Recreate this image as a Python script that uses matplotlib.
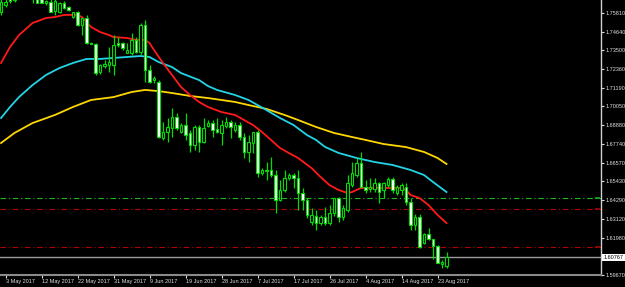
import matplotlib
matplotlib.use("Agg")
import matplotlib.pyplot as plt
import matplotlib.transforms as mtransforms
import numpy as np

plt.rcParams['font.family'] = ['Liberation Sans', 'DejaVu Sans']

# ---------------- data ----------------
opens = [1.7587, 1.7630, 1.7673, 1.7660, 1.7720, 1.7760, 1.7730, 1.7700, 1.7670, 1.7680,
         1.7640, 1.7649, 1.7595, 1.7587, 1.7643, 1.7618, 1.7556, 1.7587, 1.7507, 1.7550,
         1.7396, 1.7390, 1.7217, 1.7254, 1.7261, 1.7261, 1.7396, 1.7396, 1.7335, 1.7335,
         1.7415, 1.7341, 1.7507, 1.7230, 1.7168, 1.7156, 1.6811, 1.6848, 1.6873, 1.6940,
         1.6848, 1.6891, 1.6842, 1.6768, 1.6879, 1.6786, 1.6885, 1.6903, 1.6866, 1.6842,
         1.6885, 1.6909, 1.6860, 1.6891, 1.6817, 1.6725, 1.6780, 1.6848, 1.6595, 1.6614,
         1.6614, 1.6583, 1.6429, 1.6491, 1.6565, 1.6583, 1.6565, 1.6472, 1.6429, 1.6293,
         1.6330, 1.6287, 1.6324, 1.6287, 1.6349, 1.6441, 1.6324, 1.6367, 1.6521, 1.6583,
         1.6657, 1.6509, 1.6497, 1.6497, 1.6534, 1.6491, 1.6521, 1.6558, 1.6472, 1.6491,
         1.6509, 1.6417, 1.6275, 1.6324, 1.6164, 1.6220, 1.6189, 1.6146, 1.6035, 1.6022]
highs = [1.7692, 1.7679, 1.7710, 1.7740, 1.7790, 1.7800, 1.7760, 1.7715, 1.7690, 1.7700,
         1.7661, 1.7670, 1.7680, 1.7650, 1.7655, 1.7625, 1.7590, 1.7593, 1.7550, 1.7569,
         1.7400, 1.7396, 1.7265, 1.7291, 1.7371, 1.7445, 1.7433, 1.7402, 1.7396, 1.7458,
         1.7433, 1.7519, 1.7538, 1.7261, 1.7190, 1.7168, 1.6909, 1.6934, 1.6996, 1.6965,
         1.6903, 1.6965, 1.6860, 1.6891, 1.6891, 1.6934, 1.6922, 1.6922, 1.6934, 1.6922,
         1.6940, 1.6922, 1.6909, 1.6909, 1.6842, 1.6829, 1.6848, 1.6860, 1.6626, 1.6663,
         1.6694, 1.6614, 1.6552, 1.6614, 1.6595, 1.6595, 1.6614, 1.6503, 1.6441, 1.6380,
         1.6367, 1.6337, 1.6386, 1.6398, 1.6441, 1.6448, 1.6398, 1.6583, 1.6663, 1.6688,
         1.6725, 1.6552, 1.6565, 1.6565, 1.6540, 1.6540, 1.6571, 1.6571, 1.6521, 1.6534,
         1.6534, 1.6441, 1.6343, 1.6343, 1.6226, 1.6257, 1.6189, 1.6152, 1.6059, 1.6109]
lows = [1.7569, 1.7618, 1.7643, 1.7650, 1.7700, 1.7710, 1.7680, 1.7645, 1.7640, 1.7640,
        1.7630, 1.7587, 1.7569, 1.7580, 1.7605, 1.7593, 1.7550, 1.7501, 1.7445, 1.7390,
        1.7388, 1.7199, 1.7205, 1.7242, 1.7217, 1.7199, 1.7371, 1.7353, 1.7335, 1.7322,
        1.7335, 1.7322, 1.7156, 1.7150, 1.7150, 1.6811, 1.6799, 1.6786, 1.6817, 1.6860,
        1.6842, 1.6799, 1.6725, 1.6737, 1.6725, 1.6780, 1.6879, 1.6817, 1.6842, 1.6768,
        1.6873, 1.6811, 1.6848, 1.6799, 1.6688, 1.6663, 1.6718, 1.6571, 1.6583, 1.6552,
        1.6571, 1.6349, 1.6425, 1.6478, 1.6552, 1.6503, 1.6367, 1.6367, 1.6318, 1.6275,
        1.6244, 1.6275, 1.6275, 1.6275, 1.6330, 1.6293, 1.6306, 1.6355, 1.6509, 1.6571,
        1.6503, 1.6472, 1.6478, 1.6478, 1.6411, 1.6441, 1.6509, 1.6472, 1.6460, 1.6460,
        1.6398, 1.6244, 1.6244, 1.6133, 1.6158, 1.6183, 1.6066, 1.6041, 1.6010, 1.6010]
closes = [1.7649, 1.7649, 1.7655, 1.7720, 1.7760, 1.7730, 1.7700, 1.7670, 1.7645, 1.7645,
          1.7652, 1.7590, 1.7655, 1.7643, 1.7612, 1.7599, 1.7587, 1.7507, 1.7550, 1.7396,
          1.7390, 1.7211, 1.7261, 1.7267, 1.7279, 1.7384, 1.7384, 1.7365, 1.7353, 1.7415,
          1.7341, 1.7507, 1.7230, 1.7156, 1.7181, 1.6817, 1.6848, 1.6879, 1.6940, 1.6873,
          1.6891, 1.6829, 1.6768, 1.6879, 1.6786, 1.6873, 1.6903, 1.6860, 1.6845, 1.6891,
          1.6909, 1.6879, 1.6891, 1.6817, 1.6725, 1.6786, 1.6848, 1.6595, 1.6614, 1.6608,
          1.6583, 1.6429, 1.6491, 1.6565, 1.6583, 1.6565, 1.6472, 1.6429, 1.6337, 1.6337,
          1.6287, 1.6324, 1.6287, 1.6349, 1.6441, 1.6324, 1.6380, 1.6534, 1.6595, 1.6657,
          1.6509, 1.6491, 1.6509, 1.6534, 1.6478, 1.6534, 1.6558, 1.6491, 1.6509, 1.6521,
          1.6417, 1.6275, 1.6324, 1.6139, 1.6220, 1.6189, 1.6146, 1.6041, 1.6047, 1.60767]

ma_fast_idx = [0, 2, 4, 7, 10, 12, 14, 17, 18, 19, 20, 22, 24, 25, 28, 30, 32, 33, 34, 36,
               38, 40, 42, 44, 46, 49, 52, 54, 56, 58, 60, 62, 64, 66, 69, 71, 73, 75, 77,
               78, 80, 84, 89, 90, 91, 93, 95, 97, 99]
ma_fast = [1.7273, 1.7371, 1.7445, 1.7519, 1.7550, 1.7556, 1.7569, 1.7569, 1.7556, 1.7525,
           1.7495, 1.7464, 1.7445, 1.7433, 1.7427, 1.7415, 1.7415, 1.7396, 1.7353, 1.7273,
           1.7199, 1.7125, 1.7076, 1.7033, 1.7002, 1.6971, 1.6953, 1.6922, 1.6891, 1.6848,
           1.6799, 1.6749, 1.6718, 1.6688, 1.6626, 1.6571, 1.6521, 1.6491, 1.6472, 1.6478,
           1.6503, 1.6503, 1.6503, 1.6491, 1.6460, 1.6441, 1.6398, 1.6337, 1.6287]

ma_mid_idx = [0, 2, 4, 7, 10, 13, 16, 19, 22, 25, 28, 31, 33, 35, 38, 40, 44, 46, 48, 52,
              55, 57, 59, 62, 65, 68, 70, 72, 75, 79, 83, 87, 91, 94, 96, 99]
ma_mid = [1.6934, 1.7002, 1.7063, 1.7137, 1.7199, 1.7242, 1.7273, 1.7298, 1.7298, 1.7304,
          1.7310, 1.7316, 1.7310, 1.7279, 1.7248, 1.7211, 1.7168, 1.7131, 1.7107, 1.7076,
          1.7045, 1.7014, 1.6983, 1.6934, 1.6891, 1.6829, 1.6799, 1.6756, 1.6719, 1.6688,
          1.6663, 1.6645, 1.6614, 1.6583, 1.6540, 1.6478]

ma_slow_idx = [0, 3, 7, 12, 16, 20, 25, 29, 32, 35, 38, 42, 46, 52, 55, 59, 63, 66, 70, 74,
               78, 81, 85, 90, 94, 97, 99]
ma_slow = [1.6780, 1.6842, 1.6903, 1.6953, 1.7002, 1.7045, 1.7063, 1.7094, 1.7107, 1.7100,
           1.7088, 1.7070, 1.7057, 1.7033, 1.7014, 1.6990, 1.6953, 1.6922, 1.6879, 1.6842,
           1.6817, 1.6799, 1.6774, 1.6755, 1.6725, 1.6688, 1.6651]

level_green = 1.6440
levels_red = [1.6372, 1.6138]
last_price = 1.60767

date_idx = [1, 9, 17, 25, 33, 41, 49, 57, 65, 73, 81, 89, 97]
date_labels = ["3 May 2017", "12 May 2017", "22 May 2017", "31 May 2017", "9 Jun 2017",
               "19 Jun 2017", "28 Jun 2017", "7 Jul 2017", "17 Jul 2017", "26 Jul 2017",
               "4 Aug 2017", "14 Aug 2017", "23 Aug 2017"]
price_ticks = [1.75810, 1.74640, 1.73500, 1.72360, 1.71190, 1.70050, 1.68880, 1.67740,
               1.66570, 1.65430, 1.64290, 1.63120, 1.61980, 1.59670]

# ---------------- figure ----------------
W, H = 625, 287
FS = 4.0
fig = plt.figure(figsize=(W / 100, H / 100), dpi=100, facecolor="black")
ax = fig.add_axes([0, 12 / H, 601 / W, 275 / H], facecolor="black")

o = np.array(opens); h = np.array(highs); l = np.array(lows); c = np.array(closes)
x = np.arange(len(o))
wick_col = "#00dd00"
ax.vlines(x, l, h, color=wick_col, linewidth=0.9, zorder=3)
up = c >= o
body_h = np.abs(c - o)
body_h = np.where(body_h < 0.00025, 0.00025, body_h)
bottom = np.minimum(o, c)
ax.bar(x[up], body_h[up], bottom=bottom[up], width=0.66, color="black",
       edgecolor=wick_col, linewidth=0.8, zorder=4)
ax.bar(x[~up], body_h[~up], bottom=bottom[~up], width=0.66, color="white",
       edgecolor=wick_col, linewidth=0.8, zorder=4)

ax.plot(ma_slow_idx, ma_slow, color="#ffd700", linewidth=1.3, zorder=2)
ax.plot(ma_mid_idx, ma_mid, color="#22d4e6", linewidth=1.3, zorder=2)
ax.plot(ma_fast_idx, ma_fast, color="#ff1a1a", linewidth=1.3, zorder=2)

dash = (0, (5, 2.5, 1, 2.5))
ax.axhline(level_green, color="#1fb51f", linewidth=0.8, linestyle=dash, zorder=1)
for lv in levels_red:
    ax.axhline(lv, color="#b00000", linewidth=0.8, linestyle=dash, zorder=1)
ax.axhline(last_price, color="#9a9a9a", linewidth=1.0, zorder=1)

blend = mtransforms.blended_transform_factory(ax.transAxes, ax.transData)
ax.plot([0.991, 0.996], [level_green, level_green], color="#1fb51f", lw=1.2, transform=blend)
for lv in levels_red:
    ax.plot([0.991, 0.996], [lv, lv], color="#b00000", lw=1.2, transform=blend)

ax.set_xlim(-1 / 4.5, 600 / 4.5)
ax.set_ylim(1.7661 - 275 * 0.000616, 1.7661)

for s in ["top", "left"]:
    ax.spines[s].set_visible(False)
ax.spines["right"].set_color("#d0d0d0")
ax.spines["right"].set_linewidth(1.0)
ax.spines["bottom"].set_color("#8a8a8a")
ax.spines["bottom"].set_linewidth(1.5)

ax.yaxis.tick_right()
ax.set_yticks(price_ticks)
ax.set_yticklabels([f"{v:.5f}" for v in price_ticks])
ax.tick_params(axis="y", colors="#e0e0e0", length=2.5, width=0.8, labelsize=FS, pad=1.0)

ax.set_xticks(date_idx)
ax.set_xticklabels(date_labels, ha="left")
ax.tick_params(axis="x", colors="#e0e0e0", length=2.5, width=0.8, labelsize=FS, pad=0.3)

ax.text(1.004, last_price, f"{last_price:.5f}", transform=blend, ha="left", va="center",
        fontsize=FS, color="black", clip_on=False,
        bbox=dict(boxstyle="square,pad=0.2", facecolor="white", edgecolor="none"))

fig.savefig("out.png", dpi=100, facecolor="black")
